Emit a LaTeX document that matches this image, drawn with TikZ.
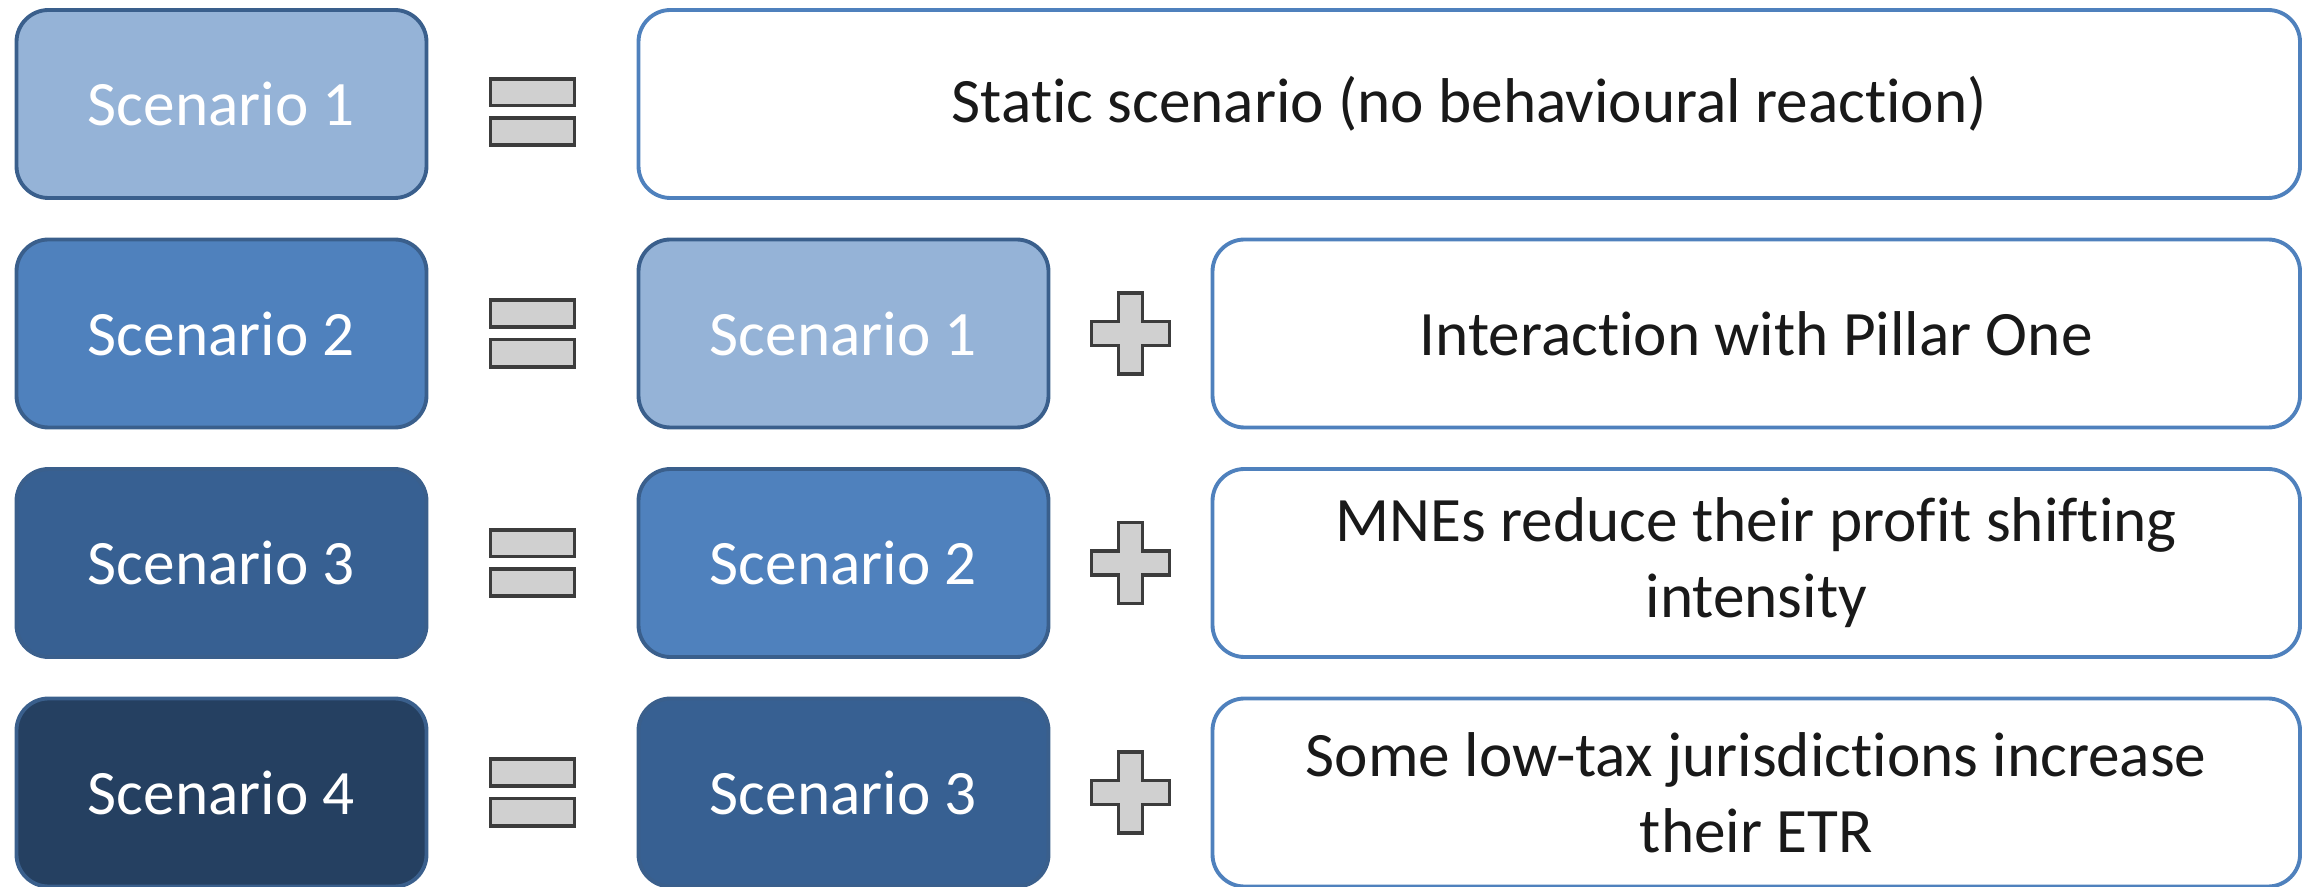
\documentclass[tikz,border=0pt]{standalone}
\usepackage{fontspec}
\setmainfont{Carlito}[Ligatures=NoCommon]
\usetikzlibrary{positioning,calc}
\definecolor{scenA}{HTML}{95B3D7}
\definecolor{scenB}{HTML}{4F81BD}
\definecolor{scenC}{HTML}{376092}
\definecolor{scenD}{HTML}{254061}
\definecolor{scenEdge}{HTML}{3A5F8C}
\definecolor{signFill}{HTML}{D0D0D0}
\definecolor{signEdge}{HTML}{3C3C3C}

\begin{document}
\begin{tikzpicture}[node distance={2.12cm}, line width=1.1pt,
    scen/.style = {draw=scenEdge, rounded corners=0.32cm, outer sep=0pt, minimum width=4.1cm, minimum height=1.88cm, text=white, font=\fontsize{18}{21.6}\selectfont},
    desc/.style = {draw=scenB, fill=white, rounded corners=0.32cm, outer sep=0pt, minimum height=1.88cm, align=center, text=black!90, font=\fontsize{18}{21.6}\selectfont},
    sign/.style = {draw=signEdge, fill=signFill}]
    \useasboundingbox (0,0) rectangle (23.1,-8.87);

    \node[scen, fill=scenA] (sc1) at (2.215,-1.04) {Scenario 1};
    \node[scen, fill=scenB] (sc2) [below=0.415cm of sc1] {Scenario 2};
    \node[scen, fill=scenC] (sc3) [below=0.415cm of sc2] {Scenario 3};
    \node[scen, fill=scenD] (sc4) [below=0.415cm of sc3] {Scenario 4};

    \node[desc, minimum width=16.615cm] (desc1) [right=of sc1] {Static scenario (no behavioural reaction)};
    \node[scen, fill=scenA] (mid2) [right=of sc2] {Scenario 1};
    \node[scen, fill=scenB] (mid3) [right=of sc3] {Scenario 2};
    \node[scen, fill=scenC] (mid4) [right=of sc4] {Scenario 3};
    \node[desc, minimum width=10.875cm] (desc2) [right=1.64cm of mid2] {Interaction with Pillar One};
    \node[desc, minimum width=10.875cm] (desc3) [right=1.64cm of mid3] {MNEs reduce their profit shifting\\intensity};
    \node[desc, minimum width=10.875cm] (desc4) [right=1.64cm of mid4] {Some low-tax jurisdictions increase\\their ETR};

    \coordinate (eq1) at ($(sc1.east)!0.5!(desc1.west)+(0,-0.08)$);
    \coordinate (eq2) at ($(sc2.east)!0.5!(mid2.west)$);
    \coordinate (eq3) at ($(sc3.east)!0.5!(mid3.west)$);
    \coordinate (eq4) at ($(sc4.east)!0.5!(mid4.west)$);
    \coordinate (pl2) at ($(mid2.east)!0.5!(desc2.west)$);
    \coordinate (pl3) at ($(mid3.east)!0.5!(desc3.west)$);
    \coordinate (pl4) at ($(mid4.east)!0.5!(desc4.west)$);

    \draw[sign, shift={(eq1)}] (-0.42,0.065) rectangle (0.42,0.333) (-0.42,-0.06) rectangle (0.42,-0.333);
    \draw[sign, shift={(eq2)}] (-0.42,0.065) rectangle (0.42,0.333) (-0.42,-0.06) rectangle (0.42,-0.333);
    \draw[sign, shift={(eq3)}] (-0.42,0.065) rectangle (0.42,0.333) (-0.42,-0.06) rectangle (0.42,-0.333);
    \draw[sign, shift={(eq4)}] (-0.42,0.065) rectangle (0.42,0.333) (-0.42,-0.06) rectangle (0.42,-0.333);

    \draw[sign, shift={(pl2)}] (-0.12,0.405) -- (0.12,0.405) -- (0.12,0.12) -- (0.39,0.12) -- (0.39,-0.12) -- (0.12,-0.12) -- (0.12,-0.405) -- (-0.12,-0.405) -- (-0.12,-0.12) -- (-0.39,-0.12) -- (-0.39,0.12) -- (-0.12,0.12) -- cycle;
    \draw[sign, shift={(pl3)}] (-0.12,0.405) -- (0.12,0.405) -- (0.12,0.12) -- (0.39,0.12) -- (0.39,-0.12) -- (0.12,-0.12) -- (0.12,-0.405) -- (-0.12,-0.405) -- (-0.12,-0.12) -- (-0.39,-0.12) -- (-0.39,0.12) -- (-0.12,0.12) -- cycle;
    \draw[sign, shift={(pl4)}] (-0.12,0.405) -- (0.12,0.405) -- (0.12,0.12) -- (0.39,0.12) -- (0.39,-0.12) -- (0.12,-0.12) -- (0.12,-0.405) -- (-0.12,-0.405) -- (-0.12,-0.12) -- (-0.39,-0.12) -- (-0.39,0.12) -- (-0.12,0.12) -- cycle;
\end{tikzpicture}
\end{document}
